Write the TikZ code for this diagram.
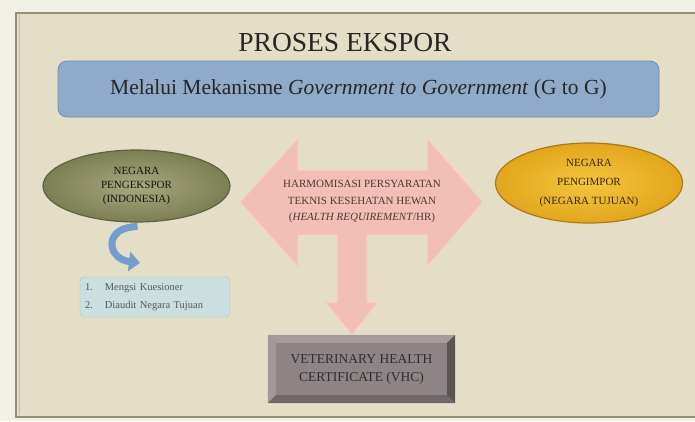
\documentclass[tikz,border=0pt]{standalone}
\usepackage{fontspec}
\setmainfont{Liberation Serif}
\usetikzlibrary{calc}
\usetikzlibrary{shapes}
\usetikzlibrary{arrows.meta}
\definecolor{pagebg}{RGB}{242,239,229}
\definecolor{panelbg}{RGB}{228,222,199}
\definecolor{panelrule}{RGB}{150,143,120}
\definecolor{barblue}{RGB}{143,171,201}
\definecolor{barrule}{RGB}{112,140,172}
\definecolor{oliveIn}{RGB}{168,168,128}
\definecolor{oliveOut}{RGB}{124,126,84}
\definecolor{oliveRule}{RGB}{96,98,60}
\definecolor{goldIn}{RGB}{244,198,62}
\definecolor{goldOut}{RGB}{226,166,28}
\definecolor{goldRule}{RGB}{170,124,22}
\definecolor{hrpink}{RGB}{241,191,181}
\definecolor{hrink}{RGB}{78,56,50}
\definecolor{curvblue}{RGB}{116,156,204}
\definecolor{listbg}{RGB}{203,222,224}
\definecolor{listrule}{RGB}{168,194,200}
\definecolor{vhcface}{RGB}{142,131,133}
\definecolor{vhclight}{RGB}{166,156,158}
\definecolor{vhcdark}{RGB}{90,82,84}
\definecolor{vhcmid}{RGB}{112,103,105}
\colorlet{ink}{black!85}
\newcommand{\txtsize}[2]{\fontsize{#1}{#2}\selectfont}
\tikzset{
  country/.style={ellipse,draw,line width=1.2pt,inner sep=0pt,
    minimum width=187pt,align=center},
  bar/.style={rounded corners=9pt,draw=barrule,fill=barblue,line width=0.8pt,
    minimum width=601pt,minimum height=56pt,text=ink},
  listbox/.style={rounded corners=4pt,draw=listrule,fill=listbg,
    minimum width=150pt,minimum height=40pt,text width=140pt,align=left,
    inner sep=5pt,text=black!65},
  vhcbox/.style={fill=vhcface,minimum width=187pt,minimum height=68pt,
    align=center,inner sep=0pt,text=black!82},
  curvarrow/.style={curvblue,line width=7pt,
    -{Triangle[length=11pt,width=19pt]}}
}

\begin{document}
\begin{tikzpicture}[x=1pt,y=-1pt]
  \useasboundingbox (0,0) rectangle (695,421);
  \fill[pagebg] (0,0) rectangle (695,421);
  \filldraw[fill=panelbg,draw=panelrule,line width=1.6pt] (16,13) rectangle (698,417);
  \draw[panelrule!40!panelbg,line width=0.6pt] (19.5,15) -- (19.5,415);

  \node[font=\txtsize{27.5}{30},text=ink] (title) at (345,43) {PROSES EKSPOR};
  \node[bar,font=\txtsize{21.5}{24}] (mech) at (358.5,89)
    {Melalui Mekanisme \textit{Government to Government} (G to G)};

  \node[country,draw=oliveRule,inner color=oliveIn,outer color=oliveOut,
    minimum height=72pt,text=black!80!oliveRule,font=\txtsize{11}{14}]
    (peng) at (136.5,186) {NEGARA\\PENGEKSPOR\\(INDONESIA)};
  \node[country,draw=goldRule,inner color=goldIn,outer color=goldOut,
    minimum height=80pt,text=black!70!goldRule,font=\txtsize{11}{19}]
    (pimp) at (589,183) {NEGARA\\PENGIMPOR\\(NEGARA TUJUAN)};

  % harmonisasi arrows
  \fill[hrpink,draw=hrpink!70!white,line width=1pt]
    (240,202) -- (298,138) -- (298,170) -- (427,170) -- (427,138)
    -- (483,202) -- (427,267) -- (427,235) -- (367,235) -- (367,302)
    -- (378,302) -- (352,335) -- (325,302) -- (337,302) -- (337,235)
    -- (298,235) -- (298,267) -- cycle;
  \node[align=center,text=hrink,font=\txtsize{11}{16.5}]
    (hr) at (362,202)
    {HARMOMISASI PERSYARATAN\\TEKNIS KESEHATAN HEWAN\\
     (\textit{HEALTH REQUIREMENT}/HR)};

  \node[listbox,font=\txtsize{10.5}{18}] (list) at (155,297)
    {1.\hspace{12pt}Mengsi Kuesioner\\2.\hspace{12pt}Diaudit Negara Tujuan};
  \draw[curvarrow] ($(peng.south)+(1,4)$) .. controls +(-34,0) and +(-34,-4)
    .. ($(list.north)+(-15,-14)$);

  \node[vhcbox,font=\txtsize{13.5}{18}] (vhc) at (361.5,369)
    {VETERINARY HEALTH\\CERTIFICATE (VHC)};
  \fill[vhclight] (vhc.north west) -- (vhc.north east)
    -- ($(vhc.north east)+(-8,8)$) -- ($(vhc.north west)+(8,8)$) -- cycle;
  \fill[vhclight!85!vhcface] (vhc.north west) -- ($(vhc.north west)+(8,8)$)
    -- ($(vhc.south west)+(8,-8)$) -- (vhc.south west) -- cycle;
  \fill[vhcdark] (vhc.north east) -- (vhc.south east)
    -- ($(vhc.south east)+(-8,-8)$) -- ($(vhc.north east)+(-8,8)$) -- cycle;
  \fill[vhcmid] (vhc.south west) -- (vhc.south east)
    -- ($(vhc.south east)+(-8,-8)$) -- ($(vhc.south west)+(8,-8)$) -- cycle;
\end{tikzpicture}
\end{document}
